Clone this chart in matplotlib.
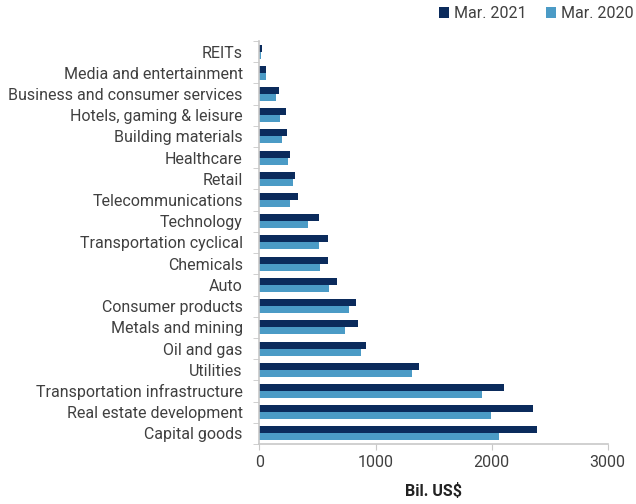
import matplotlib
matplotlib.use("Agg")
import matplotlib.pyplot as plt
import numpy as np

categories = [
    "REITs", "Media and entertainment", "Business and consumer services",
    "Hotels, gaming & leisure", "Building materials", "Healthcare", "Retail",
    "Telecommunications", "Technology", "Transportation cyclical", "Chemicals",
    "Auto", "Consumer products", "Metals and mining", "Oil and gas", "Utilities",
    "Transportation infrastructure", "Real estate development", "Capital goods",
]
mar_2021 = [20, 60, 164, 227, 235, 259, 304, 330, 517, 589, 589, 669, 833, 853,
            919, 1376, 2106, 2353, 2393]
mar_2020 = [14, 54, 143, 181, 198, 247, 287, 267, 422, 511, 522, 603, 772, 738,
            873, 1310, 1914, 1994, 2066]

DARK = "#0b2b5c"
LIGHT = "#4b9bc6"
TEXT = "#404040"
SPINE = "#c8c8c8"

plt.rcParams["font.family"] = ["Roboto", "DejaVu Sans"]
FS = 11.5

fig = plt.figure(figsize=(6.36, 5.04), dpi=100)
ax = fig.add_axes([0.408, 0.119, 0.5475, 0.7997])

y = np.arange(len(categories))
h = 0.33
ax.barh(y - h / 2, mar_2021, h, color=DARK, label="Mar. 2021")
ax.barh(y + h / 2, mar_2020, h, color=LIGHT, label="Mar. 2020")

ax.set_ylim(len(categories) - 0.5, -0.5)
ax.set_xlim(0, 3000)
ax.set_xticks([0, 1000, 2000, 3000])
ax.set_yticks(y)
ax.set_yticklabels(categories)
ax.set_yticks(np.arange(len(categories) + 1) - 0.5, minor=True)
ax.tick_params(axis="y", which="major", length=0, pad=12, labelsize=FS, labelcolor=TEXT)
ax.tick_params(axis="y", which="minor", length=4, color=SPINE, direction="out")
ax.tick_params(axis="x", length=4, color=SPINE, labelsize=FS, labelcolor=TEXT, pad=4)

for side in ("top", "right"):
    ax.spines[side].set_visible(False)
for side in ("left", "bottom"):
    ax.spines[side].set_color(SPINE)
    ax.spines[side].set_linewidth(1.2)

ax.set_xlabel("Bil. US$", fontsize=FS, fontweight="bold", color="#222222", labelpad=9)

fig.legend(loc="upper right", bbox_to_anchor=(0.996, 0.988), ncol=2, frameon=False,
           fontsize=FS, handlelength=0.65, handleheight=0.65, handletextpad=0.3,
           columnspacing=1.2, borderpad=0, borderaxespad=0, labelcolor=TEXT)

fig.savefig("out.png", dpi=100)
